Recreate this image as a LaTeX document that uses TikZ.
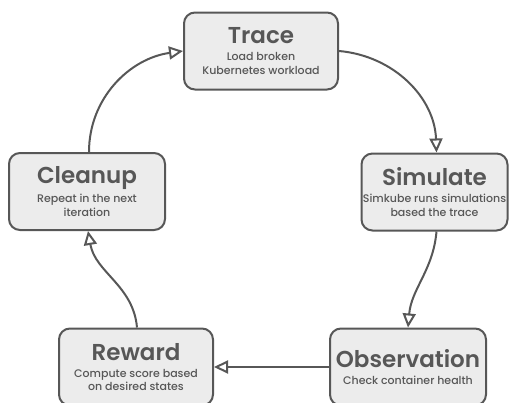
\documentclass[tikz,border=0pt]{standalone}
\usepackage{fontspec}
\setmainfont{Poppins Medium}
\newfontfamily\titlefont{Poppins SemiBold}
\usetikzlibrary{arrows.meta}
\definecolor{ink}{HTML}{575757}
\definecolor{boxfill}{HTML}{ECECEC}
\newcommand\stagetitle[1]{{\titlefont\fontsize{23}{24}\selectfont #1}\\[3.5pt]}
\begin{document}
\begin{tikzpicture}[x=1pt,y=-1pt,
  stage/.style={draw=ink, fill=boxfill, line width=2pt, rounded corners=11pt,
    minimum width=154pt, minimum height=77pt, align=center, text=ink,
    inner sep=0pt, font=\fontsize{11}{13.5}\selectfont},
  flow/.style={draw=ink, line width=2pt,
    -{Triangle[open, length=14pt, width=13pt, line width=2pt]}}]
\useasboundingbox (0,0) rectangle (509,402);

\node[stage] (trace) at (261,51)
  {\stagetitle{Trace}Load broken\\Kubernetes workload};
\node[stage, minimum width=146pt] (sim) at (434.5,192)
  {\stagetitle{Simulate}Simkube runs simulations\\based the trace};
\node[stage, minimum width=156pt] (obs) at (408,367)
  {\stagetitle{Observation}Check container health};
\node[stage] (reward) at (136,367)
  {\stagetitle{Reward}Compute score based\\on desired states};
\node[stage, minimum width=156pt] (clean) at (87,191.5)
  {\stagetitle{Cleanup}Repeat in the next\\iteration};

\draw[flow] (trace.east) to[out=-5, in=92] ([xshift=2pt]sim.north);
\draw[flow] ([xshift=2pt]sim.south) to[out=-95, in=85] (obs.north);
\draw[flow] (obs.west) -- (reward.east);
\draw[flow] ([xshift=1pt]reward.north) to[out=95, in=-80] ([xshift=1pt]clean.south);
\draw[flow] ([xshift=2pt]clean.north) to[out=90, in=188] (trace.west);
\end{tikzpicture}
\end{document}
